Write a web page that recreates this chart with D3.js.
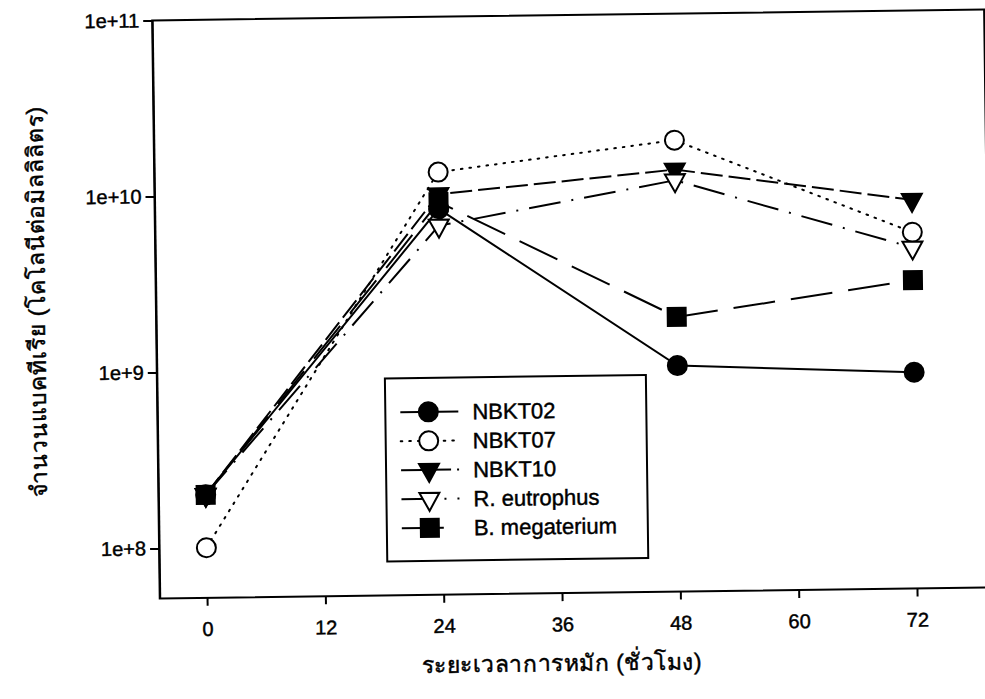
<!DOCTYPE html>
<html lang="th">

<head>
    <meta charset="utf-8">
    <title>จำนวนแบคทีเรีย</title>
    <script src="https://d3js.org/d3.v7.min.js"></script>
    <style>
        body {
            margin: 0;
            background: #fff;
        }

        text {
            font-family: "Liberation Sans", Arial, sans-serif;
            fill: #000;
            stroke: #000;
            stroke-width: 0.45;
        }

        .axis path,
        .axis line {
            stroke: #000;
            stroke-width: 2;
        }
    </style>
</head>

<body>
    <div id="chart"></div>
    <script>
        // hours of fermentation
        const hours = [0, 24, 48, 72];
        const xTicks = [0, 12, 24, 36, 48, 60, 72];
        const yTicks = [1e8, 1e9, 1e10, 1e11];

        // colonies per ml
        const nbkt02 = [2.0e8, 8.1e9, 1.0e9, 8.8e8];
        const nbkt07 = [1.0e8, 1.31e10, 1.91e10, 5.5e9];
        const nbkt10 = [2.0e8, 9.8e9, 1.3e10, 8.4e9];
        const rEutrophus = [2.0e8, 6.5e9, 1.13e10, 4.5e9];
        const bMegaterium = [2.0e8, 8.85e9, 1.89e9, 2.94e9];

        const seriesNames = ["NBKT02", "NBKT07", "NBKT10", "R. eutrophus", "B. megaterium"];

        const w = 985;
        const h = 699;
        const padLeft = 156, padRight = 988, padTop = 15, padBottom = 593;

        const series = [
            { name: seriesNames[0], values: nbkt02, dash: null, symbol: "circle", filled: true },
            { name: seriesNames[1], values: nbkt07, dash: "1.6,7", symbol: "circle", filled: false },
            { name: seriesNames[2], values: nbkt10, dash: "22,6", symbol: "tri", filled: true },
            { name: seriesNames[3], values: rEutrophus, dash: "32,11,2,11", symbol: "tri", filled: false },
            { name: seriesNames[4], values: bMegaterium, dash: "42,16", symbol: "square", filled: true }
        ];

        const svg = d3.select("#chart")
            .append("svg")
            .attr("width", w)
            .attr("height", h);

        // the scan is slightly rotated
        const g = svg.append("g")
            .attr("transform", "rotate(-0.75, 570, 310)");

        const x = d3.scaleLinear()
            .domain([0, 72])
            .range([203.3, 913.3]);

        const y = d3.scaleLog()
            .domain([1e11, Math.pow(10, 8 - (padBottom - 543) / 176)])
            .range([padTop, padBottom]);

        // frame
        g.append("rect")
            .attr("x", padLeft)
            .attr("y", padTop)
            .attr("width", padRight - padLeft)
            .attr("height", padBottom - padTop)
            .attr("fill", "none")
            .attr("stroke", "#000")
            .attr("stroke-width", 2);

        const yAxis = d3.axisLeft(y)
            .tickValues(yTicks)
            .tickFormat(d => "1e+" + Math.round(Math.log10(d)))
            .tickSize(9)
            .tickSizeOuter(0)
            .tickPadding(4);

        g.append("g")
            .attr("class", "axis")
            .attr("transform", `translate(${padLeft}, 0)`)
            .call(yAxis)
            .selectAll("text")
            .style("font-size", "20px");

        const xAxis = d3.axisBottom(x)
            .tickValues(xTicks)
            .tickSize(8)
            .tickSizeOuter(0)
            .tickPadding(16);

        const xg = g.append("g")
            .attr("class", "axis")
            .attr("transform", `translate(0, ${padBottom})`)
            .call(xAxis);
        xg.select(".domain").remove();
        xg.selectAll("text").style("font-size", "20px");

        // axis titles
        g.append("text")
            .attr("x", 557)
            .attr("y", 671)
            .attr("text-anchor", "middle")
            .style("font-size", "23px")
            .attr("textLength", 280)
            .text("ระยะเวลาการหมัก (ชั่วโมง)");

        g.append("text")
            .attr("transform", "translate(45, 295) rotate(-90)")
            .attr("text-anchor", "middle")
            .style("font-size", "23px")
            .attr("textLength", 390)
            .text("จำนวนแบคทีเรีย (โคโลนีต่อมิลลิลิตร)");

        function drawSymbol(sel, s) {
            if (s.symbol === "circle") {
                sel.append("circle").attr("r", 9.5);
            } else if (s.symbol === "square") {
                sel.append("rect").attr("x", -9).attr("y", -9).attr("width", 18).attr("height", 18);
            } else {
                sel.append("path").attr("d", "M-10,-6L10,-6L0,12Z");
            }
            sel.selectAll("*")
                .attr("fill", s.filled ? "#000" : "#fff")
                .attr("stroke", "#000")
                .attr("stroke-width", 2);
        }

        const line = d3.line()
            .x((d, i) => x(hours[i]))
            .y(d => y(d));

        // lines first
        series.forEach(s => {
            g.append("path")
                .datum(s.values)
                .attr("d", line)
                .attr("fill", "none")
                .attr("stroke", "#000")
                .attr("stroke-width", 2)
                .attr("stroke-linecap", s.dash === "1.6,7" ? "round" : "butt")
                .attr("stroke-dasharray", s.dash);
        });

        // then markers
        series.forEach(s => {
            g.selectAll(null)
                .data(s.values)
                .enter()
                .append("g")
                .attr("transform", (d, i) => `translate(${x(hours[i])}, ${y(d)})`)
                .each(function () { drawSymbol(d3.select(this), s); });
        });

        // legend
        const legend = g.append("g");
        legend.append("rect")
            .attr("x", 384)
            .attr("y", 376)
            .attr("width", 261)
            .attr("height", 183)
            .attr("fill", "#fff")
            .attr("stroke", "#000")
            .attr("stroke-width", 2);

        series.forEach((s, i) => {
            const ly = 410 + i * 29;
            legend.append("line")
                .attr("x1", 399)
                .attr("x2", 457)
                .attr("y1", ly)
                .attr("y2", ly)
                .attr("stroke", "#000")
                .attr("stroke-width", 2)
                .attr("stroke-linecap", s.dash === "1.6,7" ? "round" : "butt")
                .attr("stroke-dasharray", s.dash);
            const m = legend.append("g").attr("transform", `translate(427, ${ly})`);
            drawSymbol(m, s);
            legend.append("text")
                .attr("x", 471)
                .attr("y", ly)
                .attr("dy", "0.36em")
                .style("font-size", "22px")
                .text(s.name);
        });
    </script>
</body>

</html>
